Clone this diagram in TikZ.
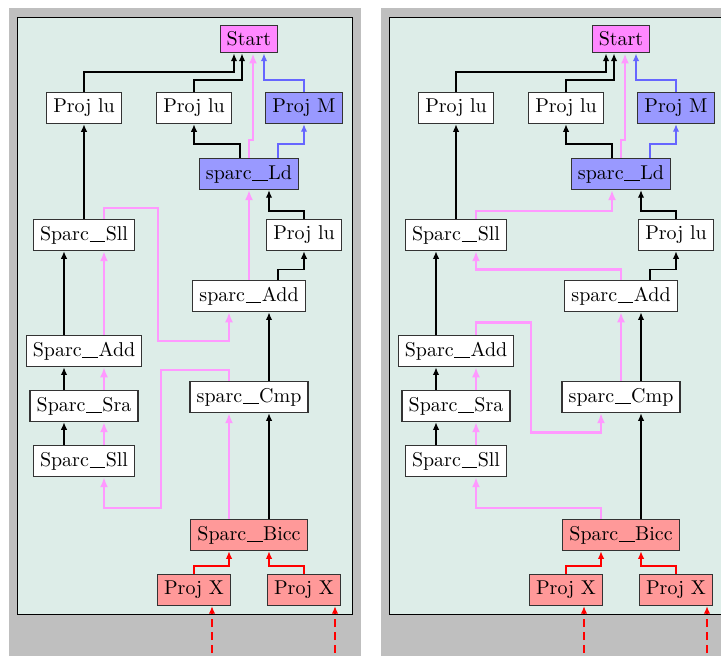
\documentclass[tikz,border=0pt]{standalone}
\usetikzlibrary{arrows.meta}
\definecolor{bgc}{RGB}{221,237,232}
\definecolor{grayc}{RGB}{191,191,191}
\definecolor{startc}{RGB}{255,136,255}
\definecolor{pinkc}{RGB}{255,153,255}
\definecolor{bluefill}{RGB}{153,153,255}
\definecolor{bluec}{RGB}{102,102,255}
\definecolor{redfill}{RGB}{255,153,153}
\newcommand{\usc}{\kern0.3pt\rule[-0.7pt]{7.8pt}{0.4pt}\kern0.3pt}
\tikzset{
  box/.style={draw=black!80, line width=0.55pt, fill=white, inner sep=3.33pt},
  startbox/.style={box, fill=startc},
  bluebox/.style={box, fill=bluefill},
  redbox/.style={box, fill=redfill},
  blk/.style={draw=black, line width=0.7pt, -{Latex[length=3.8pt,width=3.2pt]}},
  pnk/.style={draw=pinkc, line width=1.3pt, -{Latex[length=5pt,width=4pt]}},
  blu/.style={draw=bluec, line width=0.7pt, -{Latex[length=3.8pt,width=3.2pt]}},
  rd/.style={draw=red, line width=0.7pt, -{Latex[length=3.8pt,width=3.2pt]}},
  rdd/.style={draw=red, line width=0.7pt, dash pattern=on 4pt off 2.5pt, -{Latex[length=3.8pt,width=3.2pt]}},
}
\newcommand{\drawpanel}[1]{%
  \fill[grayc] (9,8) rectangle (361,700);
  \draw[black, line width=0.5pt, fill=bgc] (17,17) rectangle (352,614);
  \node[startbox] (#1start) at (249,39) {Start};
  \node[box] (#1plu1) at (84,108) {Proj lu};
  \node[box] (#1plu2) at (194,108) {Proj lu};
  \node[bluebox] (#1pm) at (304,108) {Proj M};
  \node[bluebox] (#1ld) at (249,174) {sparc\usc Ld};
  \node[box] (#1sll1) at (84,235) {Sparc\usc Sll};
  \node[box] (#1plr) at (304,235) {Proj lu};
  \node[box] (#1add) at (249,296) {sparc\usc Add};
  \node[box] (#1sadd) at (84,351) {Sparc\usc Add};
  \node[box] (#1sra) at (84,406) {Sparc\usc Sra};
  \node[box] (#1cmp) at (249,397) {sparc\usc Cmp};
  \node[box] (#1sll2) at (84,461) {Sparc\usc Sll};
  \node[redbox] (#1bicc) at (249,535) {Sparc\usc Bicc};
  \node[redbox] (#1px1) at (194,590) {Proj X};
  \node[redbox] (#1px2) at (304,590) {Proj X};
  % black
  \draw[blk] (#1plu1.north) -- ++(0,-20) -| ([xshift=-7.5pt]#1start.south);
  \draw[blk] (#1plu2.north) -- ++(0,-12) -| ([xshift=-3.5pt]#1start.south);
  \draw[blk] ([xshift=-4.5pt]#1ld.north) -- ++(0,-14) -| (#1plu2.south);
  \draw[blk] (#1plr.north) -- ++(0,-8) -| ([xshift=10pt]#1ld.south);
  \draw[blk] ([xshift=14.5pt]#1add.north) -- ++(0,-10) -| (#1plr.south);
  \draw[blk] ([xshift=10pt]#1cmp.north) -- ([xshift=10pt]#1add.south);
  \draw[blk] ([xshift=10pt]#1bicc.north) -- ([xshift=10pt]#1cmp.south);
  \draw[blk] (#1sll1.north) -- (#1plu1.south);
  \draw[blk] ([xshift=-10pt]#1sadd.north) -- ([xshift=-10pt]#1sll1.south);
  \draw[blk] ([xshift=-10pt]#1sra.north) -- ([xshift=-10pt]#1sadd.south);
  \draw[blk] ([xshift=-10pt]#1sll2.north) -- ([xshift=-10pt]#1sra.south);
  % blue
  \draw[blu] (#1pm.north) -- ++(0,-12) -| ([xshift=7.5pt]#1start.south);
  \draw[blu] ([xshift=14.5pt]#1ld.north) -- ++(0,-14) -| (#1pm.south);
  % pink common
  \draw[pnk] (#1ld.north) -- ++(0,-18) -| ([xshift=2pt]#1start.south);
  \draw[pnk] ([xshift=10pt]#1sra.north) -- ([xshift=10pt]#1sadd.south);
  \draw[pnk] ([xshift=10pt]#1sll2.north) -- ([xshift=10pt]#1sra.south);
  % red
  \draw[rd] (#1px1.north) -- ++(0,-8) -| ([xshift=-10pt]#1bicc.south);
  \draw[rd] (#1px2.north) -- ++(0,-8) -| ([xshift=10pt]#1bicc.south);
  \draw[rdd] ([xshift=9pt,yshift=-30pt]#1px1.south) -- ([xshift=9pt]#1px1.south);
  \draw[rdd] ([xshift=15.5pt,yshift=-30pt]#1px2.south) -- ([xshift=15.5pt]#1px2.south);
}
\begin{document}
\begin{tikzpicture}[x=0.5pt,y=-0.5pt]
\useasboundingbox (0,0) rectangle (721,655);
\clip (0,0) rectangle (721,655);
\begin{scope}
  \drawpanel{L}
  \draw[pnk] (Ladd.north) -- (Lld.south);
  \draw[pnk] ([xshift=10pt]Lsadd.north) -- ([xshift=10pt]Lsll1.south);
  \draw[pnk] ([xshift=-10pt]Lbicc.north) -- ([xshift=-10pt]Lcmp.south);
  \draw[pnk] ([xshift=10pt]Lsll1.north) -- ++(0,-11) -- ++(54,0) -- ++(0,133) -| ([xshift=-10pt]Ladd.south);
  \draw[pnk] ([xshift=-10pt]Lcmp.north) -- ++(0,-11) -- ++(-68,0) -- ++(0,138) -| ([xshift=10pt]Lsll2.south);
\end{scope}
\begin{scope}[xshift=186pt]
  \drawpanel{R}
  \draw[pnk] ([xshift=10pt]Rsll1.north) -- ++(0,-8) -| ([xshift=-4.5pt]Rld.south);
  \draw[pnk] (Radd.north) -- ++(0,-10) -| ([xshift=10pt]Rsll1.south);
  \draw[pnk] ([xshift=10pt]Rsadd.north) -- ++(0,-12) -- ++(55,0) -- ++(0,110) -| ([xshift=-10pt]Rcmp.south);
  \draw[pnk] (Rcmp.north) -- (Radd.south);
  \draw[pnk] ([xshift=-10pt]Rbicc.north) -- ++(0,-11) -| ([xshift=10pt]Rsll2.south);
\end{scope}
\end{tikzpicture}
\end{document}
